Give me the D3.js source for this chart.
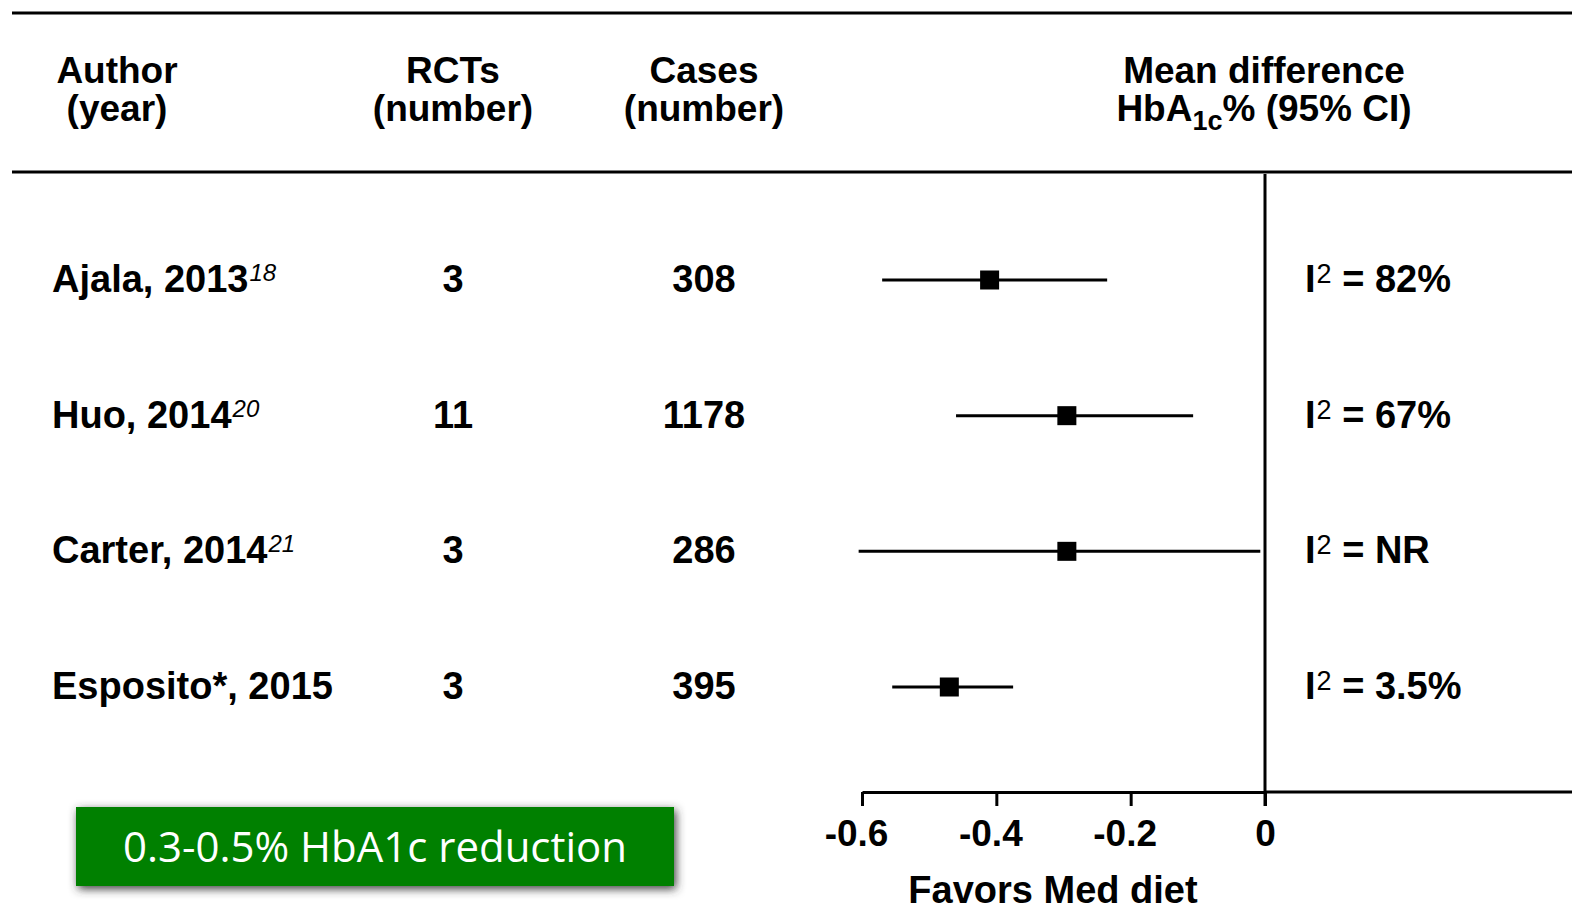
<!DOCTYPE html>
<html>
<head>
<meta charset="utf-8">
<script src="https://cdn.jsdelivr.net/npm/d3@7"></script>
<style>
  html, body { margin: 0; padding: 0; background: #fff; }
  svg { display: block; }
  text { font-family: "Liberation Sans", Arial, Helvetica, sans-serif; fill: #000; }
</style>
</head>
<body>
<svg id="chart" width="1572" height="911"></svg>
<script>
// ---- data ----
const authors = ["Ajala, 2013", "Huo, 2014", "Carter, 2014", "Esposito*, 2015"];
const refs = ["18", "20", "21", ""];
const rcts = [3, 11, 3, 3];
const cases = [308, 1178, 286, 395];
const meanDiff = [-0.41, -0.295, -0.295, -0.47];
const ciLow = [-0.57, -0.46, -0.605, -0.555];
const ciHigh = [-0.235, -0.107, -0.007, -0.375];
const i2Values = ["82%", "67%", "NR", "3.5%"];
const xTicks = [-0.6, -0.4, -0.2, 0];
const xTickLabels = ["-0.6", "-0.4", "-0.2", "0"];
const summaryText = "0.3-0.5% HbA1c reduction";
const axisTitle = "Favors Med diet";

const W = 1572, H = 911;
const svg = d3.select("#chart");

const defs = svg.append("defs");
const f = defs.append("filter").attr("id", "shadow")
  .attr("x", "-10%").attr("y", "-40%").attr("width", "120%").attr("height", "180%");
f.append("feDropShadow").attr("dx", 2).attr("dy", 3).attr("stdDeviation", 5)
  .attr("flood-color", "#333").attr("flood-opacity", 0.95);

const x = d3.scaleLinear().domain([-0.6, 0]).range([862, 1265]);
const y = d3.scalePoint().domain(authors).range([280, 687]);
const axisY = 792;

// header rules
svg.append("line").attr("x1", 12).attr("x2", W).attr("y1", 13).attr("y2", 13)
  .attr("stroke", "#000").attr("stroke-width", 3);
svg.append("line").attr("x1", 12).attr("x2", W).attr("y1", 172).attr("y2", 172)
  .attr("stroke", "#000").attr("stroke-width", 3);

// header text
const hdrFont = 37;
function header(cx, l1, l2) {
  const t = svg.append("text").attr("text-anchor", "middle")
    .style("font-weight", "bold").style("font-size", hdrFont + "px");
  t.append("tspan").attr("x", cx).attr("y", 83).text(l1);
  t.append("tspan").attr("x", cx).attr("y", 121).text(l2);
}
header(117, "Author", "(year)");
header(453, "RCTs", "(number)");
header(704, "Cases", "(number)");
svg.append("text").attr("x", 1264).attr("y", 83).attr("text-anchor", "middle")
  .style("font-weight", "bold").style("font-size", hdrFont + "px").text("Mean difference");
const h2 = svg.append("text").attr("x", 1264).attr("y", 121).attr("text-anchor", "middle")
  .style("font-weight", "bold").style("font-size", hdrFont + "px");
h2.append("tspan").text("HbA");
h2.append("tspan").attr("dy", 9).style("font-size", "27px").text("1c");
h2.append("tspan").attr("dy", -9).text("% (95% CI)");

// rows
const rowFont = 38;
authors.forEach((a, i) => {
  const yy = y(a) + 12;
  const t = svg.append("text").attr("x", 52).attr("y", yy)
    .style("font-weight", "bold").style("font-size", rowFont + "px");
  t.append("tspan").text(a);
  if (refs[i]) {
    t.append("tspan").attr("dy", -11).style("font-weight", "normal")
      .style("font-style", "italic").style("font-size", "24px").attr("dx", 1).text(refs[i]);
  }
  svg.append("text").attr("x", 453).attr("y", yy).attr("text-anchor", "middle")
    .style("font-weight", "bold").style("font-size", rowFont + "px").text(rcts[i]);
  svg.append("text").attr("x", 704).attr("y", yy).attr("text-anchor", "middle")
    .style("font-weight", "bold").style("font-size", rowFont + "px").text(cases[i]);
  const it = svg.append("text").attr("x", 1305).attr("y", yy)
    .style("font-weight", "bold").style("font-size", rowFont + "px");
  it.append("tspan").text("I");
  it.append("tspan").attr("dy", -9).attr("dx", 1).style("font-weight", "normal").style("font-size", "27px").text("2");
  it.append("tspan").attr("dy", 9).text(" = " + i2Values[i]);
});

// zero line
svg.append("line").attr("x1", x(0)).attr("x2", x(0)).attr("y1", 174).attr("y2", axisY + 14)
  .attr("stroke", "#000").attr("stroke-width", 3);

// CI lines and squares
const g = svg.append("g");
g.selectAll("line.ci").data(authors).enter().append("line").attr("class", "ci")
  .attr("x1", (d, i) => x(ciLow[i])).attr("x2", (d, i) => x(ciHigh[i]))
  .attr("y1", d => y(d)).attr("y2", d => y(d))
  .attr("stroke", "#000").attr("stroke-width", 3);
const sq = 19;
g.selectAll("rect.pt").data(authors).enter().append("rect").attr("class", "pt")
  .attr("x", (d, i) => x(meanDiff[i]) - sq / 2).attr("y", d => y(d) - sq / 2)
  .attr("width", sq).attr("height", sq).attr("fill", "#000");

// axis
const axis = d3.axisBottom(x).tickValues(xTicks).tickSize(14).tickSizeOuter(0)
  .tickFormat((d, i) => xTickLabels[i]);
const ag = svg.append("g").attr("transform", `translate(0,${axisY})`).call(axis);
ag.select(".domain").attr("stroke", "#000").attr("stroke-width", 3);
ag.selectAll(".tick line").attr("stroke", "#000").attr("stroke-width", 3);
ag.selectAll(".tick text").attr("y", 28).attr("dy", "0.71em")
  .attr("dx", (d) => d < 0 ? -6 : 0)
  .style("font-family", '"Liberation Sans", Arial, sans-serif')
  .style("font-weight", "bold").style("font-size", "37px").attr("fill", "#000");
svg.append("line").attr("x1", x(0)).attr("x2", W).attr("y1", axisY).attr("y2", axisY)
  .attr("stroke", "#000").attr("stroke-width", 3);

svg.append("text").attr("x", 1053).attr("y", 903).attr("text-anchor", "middle")
  .style("font-weight", "bold").style("font-size", "38px").text(axisTitle);

// summary box
svg.append("rect").attr("x", 76).attr("y", 807).attr("width", 598).attr("height", 79)
  .attr("fill", "#008000").attr("filter", "url(#shadow)");
svg.append("text").attr("x", 375).attr("y", 862).attr("text-anchor", "middle")
  .style("font-family", '"Open Sans", "Noto Sans", sans-serif')
  .style("font-size", "42px").style("fill", "#fff")
  .attr("textLength", 504).attr("lengthAdjust", "spacingAndGlyphs")
  .text(summaryText);
</script>
</body>
</html>
